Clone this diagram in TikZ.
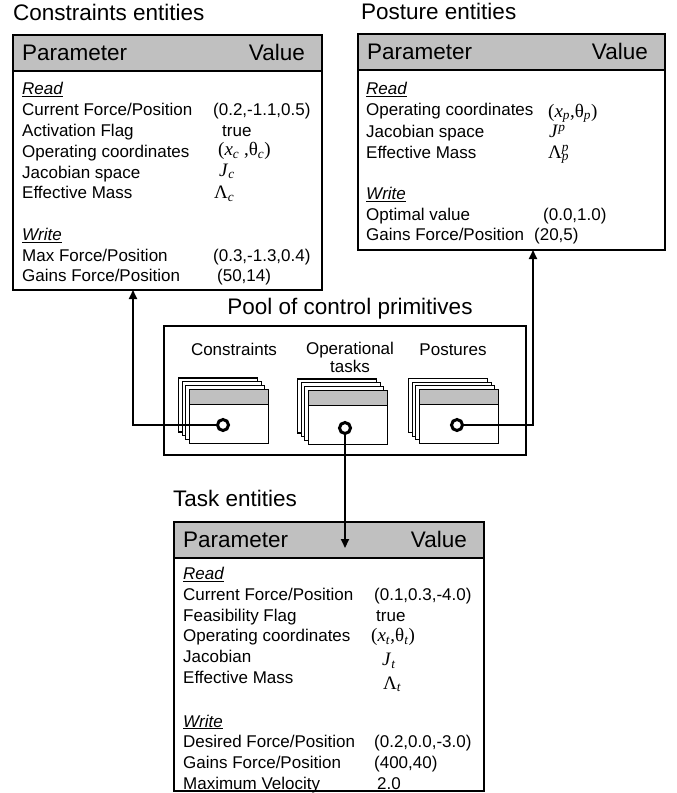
\documentclass[tikz,border=0pt]{standalone}
\usepackage{fontspec}
\setmainfont{Liberation Sans}
\newfontfamily\symserif{Liberation Serif}
\usetikzlibrary{positioning, arrows.meta, calc}
\definecolor{HeadGray}{RGB}{192, 192, 192}
\newcommand{\sectlabel}[1]{\underline{\textit{#1}}}
\newcommand{\mv}[1]{{\fontsize{19pt}{20.7pt}\symserif #1}}
\newcommand{\sub}[1]{\textsubscript{\textit{#1}}}
\newcommand{\super}[1]{\textsuperscript{\textit{#1}}}

\begin{document}
\begin{tikzpicture}[
    x=1pt, y=-1pt,
    % Global Styles
    title/.style={
        font=\fontsize{22.5pt}{27pt}\selectfont,
        inner sep=0pt,
        anchor=base west
    },
    head/.style={
        rectangle,
        draw=black,
        line width=1.6pt,
        fill=HeadGray,         % Gray header band
        minimum height=36pt,
        inner xsep=9pt,
        outer sep=0pt,
        anchor=north west,
        align=left,
        font=\fontsize{22.5pt}{27pt}\selectfont
    },
    headtext/.style={
        inner sep=0pt,
        anchor=base east,
        font=\fontsize{22.5pt}{27pt}\selectfont
    },
    frame/.style={
        rectangle,
        draw=black,
        line width=1.5pt,
        inner sep=0pt,
        outer sep=0pt
    },
    rows/.style={
        inner sep=0pt,
        anchor=north west,
        font=\fontsize{17pt}{20.7pt}\selectfont
    },
    card/.style={
        rectangle,
        draw=black,
        line width=1.1pt,
        fill=white,
        minimum width=79pt,
        minimum height=54pt,
        inner sep=0pt,
        outer sep=0pt
    },
    cardhead/.style={
        card,
        fill=HeadGray,
        minimum height=15pt
    },
    port/.style={
        circle,
        draw=black,
        line width=3pt,
        fill=white,
        minimum size=11pt,
        inner sep=0pt
    },
    cardlabel/.style={
        font=\fontsize{17pt}{17.5pt}\selectfont,
        align=center,
        inner sep=0pt,
        anchor=base
    },
    arrow/.style={
        -{Triangle[length=9pt,width=8pt]},
        line width=2pt,
        draw=black
    }
]
    \useasboundingbox (0,0) rectangle (677,793);

    % --- Constraints entities (top left) ---
    \node[title] (ctitle) at (13,20) {Constraints entities};
    \node[head, text width=291pt] (chead) at (13,35) {Parameter};
    \node[headtext] (cvalue) at ([xshift=-17pt]chead.base east) {Value};
    \node[frame, minimum width=309pt, minimum height=219pt, below=0pt of chead] (ctab) {};
    \node[rows] (crows) at ([shift={(9pt,-9pt)}]ctab.north west) {%
        \begin{tabular}{@{}p{191pt}@{}l@{}}
            \sectlabel{Read} & \\
            Current Force/Position & (0.2,-1.1,0.5)\\
            Activation Flag & \hspace*{9pt}true\\
            Operating coordinates & \hspace*{5pt}\raisebox{2pt}{\mv{(\textit{x}\sub{c} ,θ\sub{c})}}\\
            Jacobian space & \hspace*{6pt}\raisebox{2pt}{\mv{\textit{J}\sub{c}}}\\
            Effective Mass & \hspace*{1pt}\mv{Λ\sub{c}}\\
            & \\
            \sectlabel{Write} & \\
            Max Force/Position & (0.3,-1.3,0.4)\\
            Gains Force/Position & \hspace*{4pt}(50,14)
        \end{tabular}};

    % --- Posture entities (top right) ---
    \node[title] (ptitle) at (361,19) {Posture entities};
    \node[head, text width=289pt] (phead) at (358,34) {Parameter};
    \node[headtext] (pvalue) at ([xshift=-17pt]phead.base east) {Value};
    \node[frame, minimum width=307pt, minimum height=180pt, below=0pt of phead] (ptab) {};
    \node[rows] (prows) at ([shift={(8pt,-10pt)}]ptab.north west) {%
        \begin{tabular}{@{}p{168pt}@{}l@{}}
            \sectlabel{Read} & \\
            Operating coordinates & \hspace*{14pt}\raisebox{-2pt}{\mv{(\textit{x}\sub{p},θ\sub{p})}}\\
            Jacobian space & \hspace*{15pt}\mv{\textit{J}\super{p}}\\
            Effective Mass & \hspace*{14pt}\mv{Λ\rlap{\super{p}}\sub{p}}\\
            & \\
            \sectlabel{Write} & \\
            Optimal value & \hspace*{9pt}(0.0,1.0)\\
            Gains Force/Position & (20,5)
        \end{tabular}};

    % --- Pool of control primitives (middle) ---
    \node[title, anchor=base] (pooltitle) at (350,314) {Pool of control primitives};
    \node[frame, line width=2pt, minimum width=362pt, minimum height=129pt, anchor=north west] (pool) at (164,326) {};

    \node[cardlabel] (clabel) at (234,355) {Constraints};
    \node[cardlabel] (olabel) at (350,372) {Operational\\tasks};
    \node[cardlabel] (plabel) at (453,355) {Postures};

    % Constraints stack
    \node[card] (cstackc) at (218,405) {};
    \node[card] (cstackb) at ([shift={(3.7pt,-3.7pt)}]cstackc) {};
    \node[card] (cstacka) at ([shift={(3.7pt,-3.7pt)}]cstackb) {};
    \node[card] (ccard) at ([shift={(3.7pt,-3.7pt)}]cstacka) {};
    \node[cardhead, below=0pt of ccard.north] (ccardhead) {};
    \node[port] (cport) at (223,425) {};

    % Operational tasks stack
    \node[card] (ostackc) at (337,406) {};
    \node[card] (ostackb) at ([shift={(3.7pt,-3.7pt)}]ostackc) {};
    \node[card] (ostacka) at ([shift={(3.7pt,-3.7pt)}]ostackb) {};
    \node[card] (ocard) at ([shift={(3.7pt,-3.7pt)}]ostacka) {};
    \node[cardhead, below=0pt of ocard.north] (ocardhead) {};
    \node[port] (oport) at (345,428) {};

    % Postures stack
    \node[card] (pstackc) at (448,405.5) {};
    \node[card] (pstackb) at ([shift={(3.7pt,-3.7pt)}]pstackc) {};
    \node[card] (pstacka) at ([shift={(3.7pt,-3.7pt)}]pstackb) {};
    \node[card] (pcard) at ([shift={(3.7pt,-3.7pt)}]pstacka) {};
    \node[cardhead, below=0pt of pcard.north] (pcardhead) {};
    \node[port] (pport) at (457,425) {};

    % --- Task entities (bottom) ---
    \node[title] (ttitle) at (173,506) {Task entities};
    \node[head, text width=292pt] (thead) at (174,522) {Parameter};
    \node[headtext] (tvalue) at ([xshift=-17pt]thead.base east) {Value};
    \node[frame, minimum width=310pt, minimum height=233pt, below=0pt of thead] (ttab) {};
    \node[rows] (trows) at ([shift={(9pt,-7pt)}]ttab.north west) {%
        \begin{tabular}{@{}p{191pt}@{}l@{}}
            \sectlabel{Read} & \\
            Current Force/Position & (0.1,0.3,-4.0)\\
            Feasibility Flag & \hspace*{2pt}true\\
            Operating coordinates & \hspace*{-3pt}\mv{(\textit{x}\sub{t},θ\sub{t})}\\
            Jacobian & \hspace*{8pt}\raisebox{-3pt}{\mv{\textit{J}\sub{t}}}\\
            Effective Mass & \hspace*{9pt}\raisebox{-6pt}{\mv{Λ\sub{t}}}\\
            & \\
            \sectlabel{Write} & \\
            Desired Force/Position & (0.2,0.0,-3.0)\\
            Gains Force/Position & (400,40)\\
            Maximum Velocity & \hspace*{3pt}2.0
        \end{tabular}};

    % --- Connections ---
    \draw[arrow] (cport.west) -| ([xshift=-34.5pt]ctab.south);
    \draw[arrow] (pport.east) -| ([xshift=21.5pt]ptab.south);
    \draw[arrow, shorten >=10pt] (oport.south) -- (oport |- thead.south);

\end{tikzpicture}
\end{document}
